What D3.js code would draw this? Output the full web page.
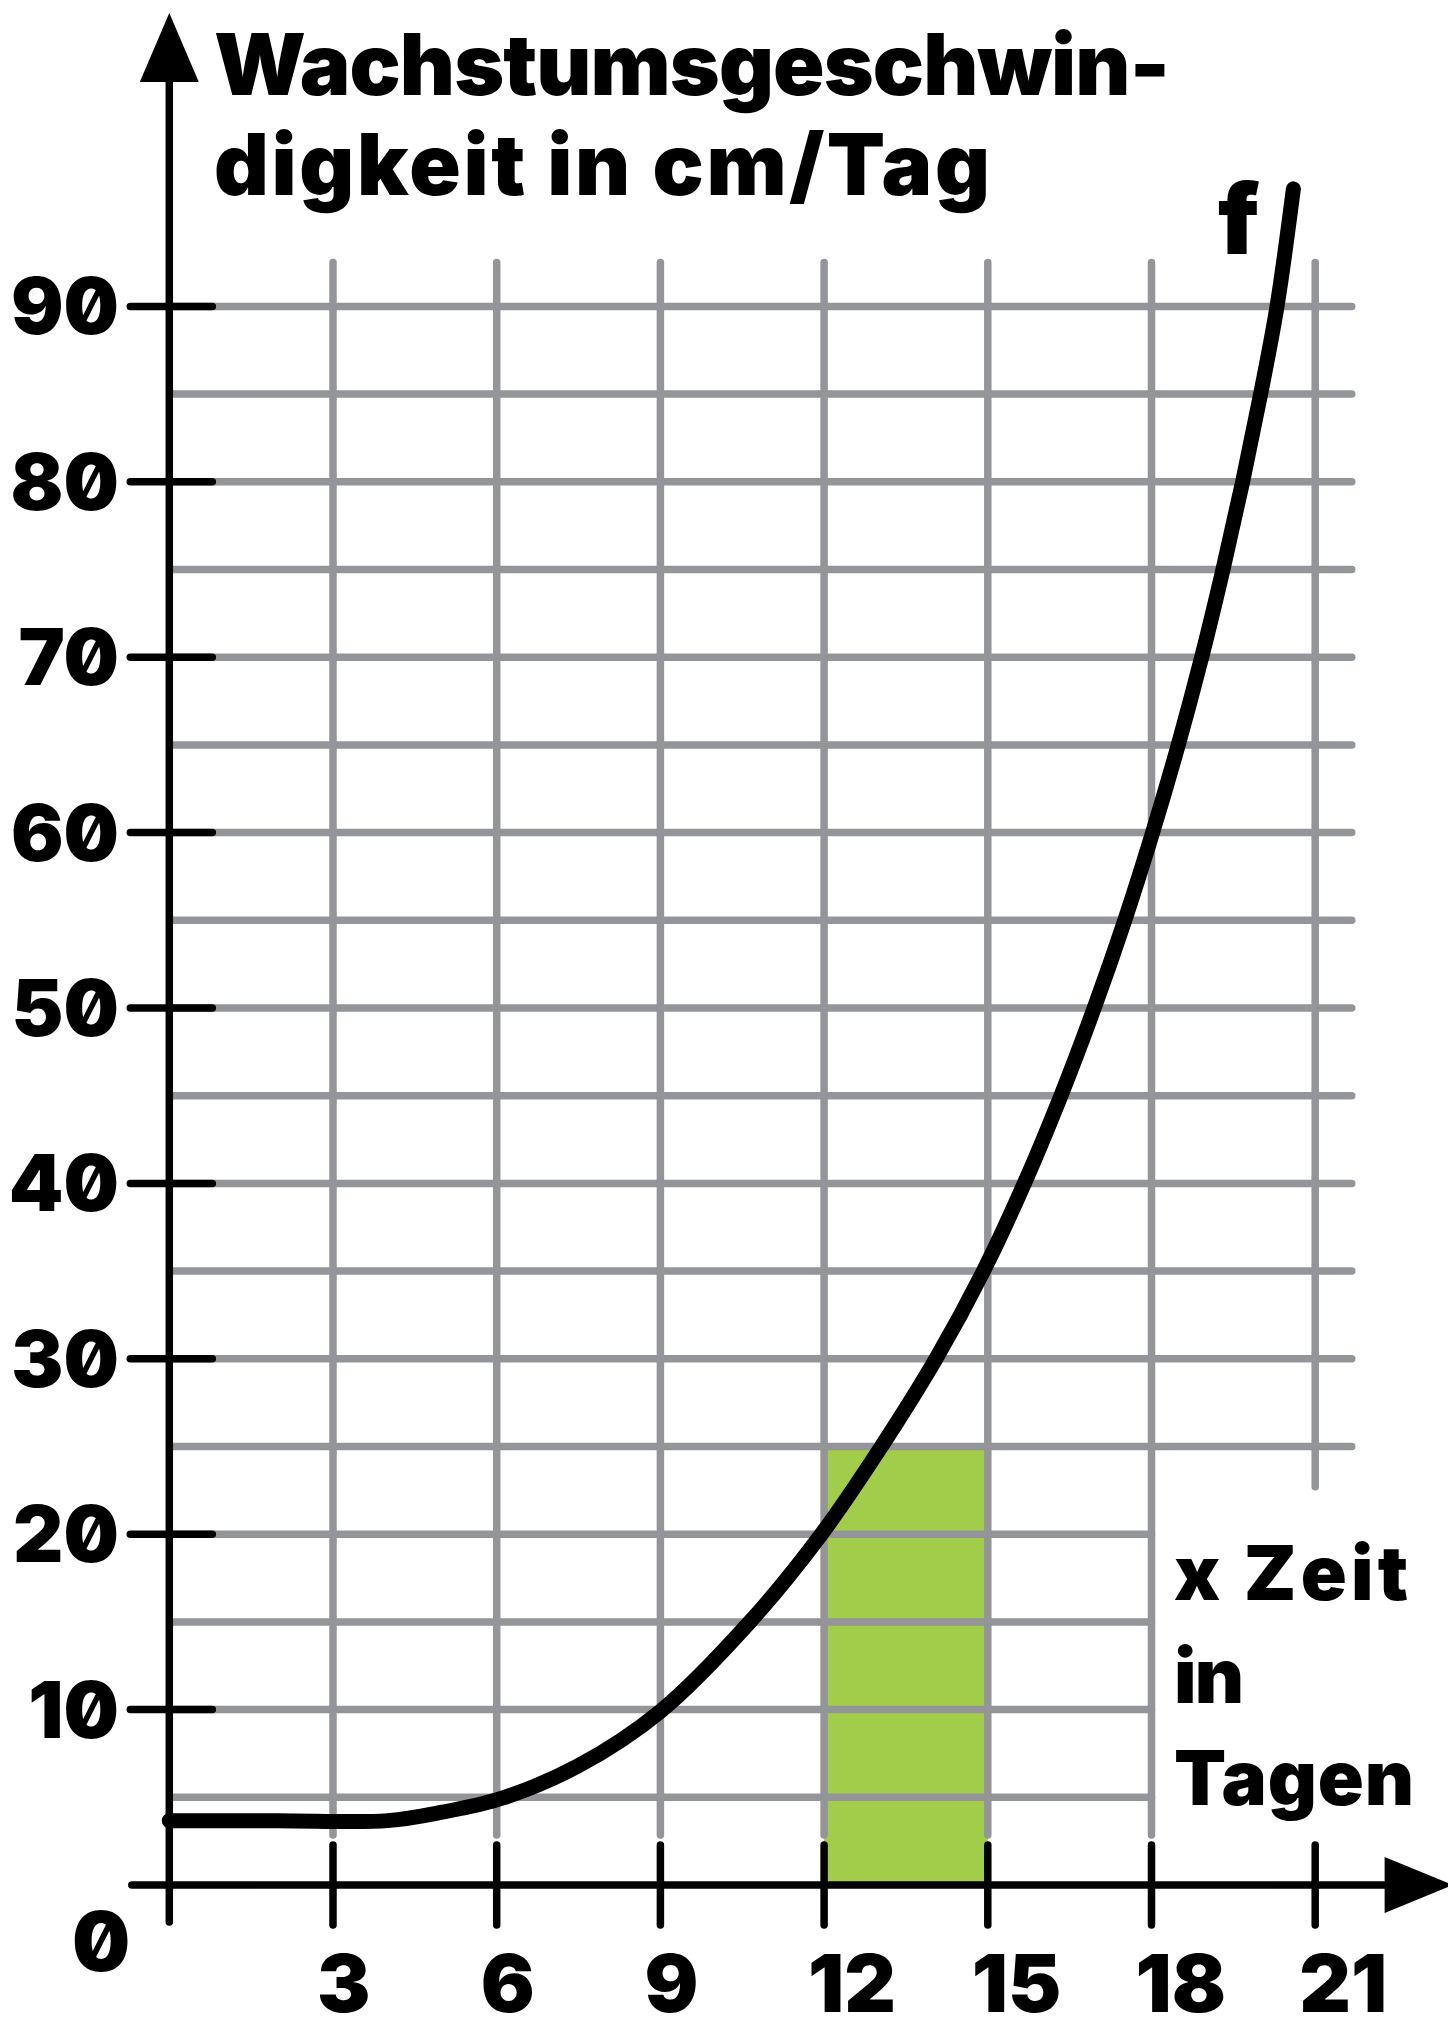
<!DOCTYPE html>
<html>
<head>
<meta charset="utf-8">
<script src="https://cdn.jsdelivr.net/npm/d3@7/dist/d3.min.js"></script>
<style>
  html, body { margin: 0; padding: 0; background: #fff; }
  svg text { font-family: Inter, "Open Sans", sans-serif; font-weight: 900; fill: #000; font-feature-settings: "zero" 1; }
</style>
</head>
<body>
<svg id="chart" width="1448" height="2018"></svg>
<script>
// ======================================================================
// DATA
// ======================================================================

const xTicks = [3, 6, 9, 12, 15, 18, 21];
const yTicks = [10, 20, 30, 40, 50, 60, 70, 80, 90];
const yGrid = [5, 10, 15, 20, 25, 30, 35, 40, 45, 50, 55, 60, 65, 70, 75, 80, 85, 90];

// curve f: growth speed in cm per day
const fDays = [0, 2, 4, 5, 6.1, 7.5, 9, 10.64, 11.95, 13.05, 14.05, 14.92, 15.67, 16.34, 16.95, 17.51, 18.02, 18.49, 18.92, 19.31, 19.67, 20.0, 20.3, 20.6];
const fSpeed = [3.67, 3.67, 3.67, 4.15, 4.95, 6.8, 9.9, 15, 20, 25, 30, 35, 40, 45, 50, 55, 60, 65, 70, 75, 80, 85, 90, 96.7];

// highlighted column
const barDays = [12, 15];
const barSpeed = 25;

const titleLines = ["Wachstumsgeschwin-", "digkeit in cm/Tag"];
const xTitleLines = ["x Zeit", "in", "Tagen"];
const curveName = "f";

// ======================================================================
// LAYOUT
// ======================================================================

const gray = "#939598";
const green = "#a1cd4a";

// line widths measured on the picture
const titleWidths = [956, 776];
const xTitleWidths = [234, 70, 240];

const x = d3.scaleLinear().domain([0, 21]).range([169.3, 1315.2]);
const y = d3.scaleLinear().domain([0, 90]).range([1885, 306.4]);

const svg = d3.select("#chart");

// green column
svg
  .append("rect")
  .attr("x", x(barDays[0]))
  .attr("y", y(barSpeed))
  .attr("width", x(barDays[1]) - x(barDays[0]))
  .attr("height", y(0) - y(barSpeed))
  .attr("fill", green);

// grid
const grid = svg
  .append("g")
  .attr("stroke", gray)
  .attr("stroke-width", 7.5)
  .attr("stroke-linecap", "round");

grid
  .selectAll("line.h")
  .data(yGrid)
  .join("line")
  .attr("class", "h")
  .attr("x1", x(0) + 3)
  .attr("x2", (d) => (d < 25 ? x(18) : x(21.67)))
  .attr("y1", (d) => y(d))
  .attr("y2", (d) => y(d));

grid
  .selectAll("line.v")
  .data(xTicks)
  .join("line")
  .attr("class", "v")
  .attr("x1", (d) => x(d))
  .attr("x2", (d) => x(d))
  .attr("y1", y(92.5))
  .attr("y2", (d) => (d === 21 ? y(22.7) : y(2.85)));

// axes
const axes = svg
  .append("g")
  .attr("stroke", "#000")
  .attr("stroke-width", 7.5)
  .attr("stroke-linecap", "round");

axes
  .append("line")
  .attr("x1", x(0))
  .attr("x2", x(0))
  .attr("y1", y(0) + 37)
  .attr("y2", 60);

axes
  .append("line")
  .attr("x1", x(0) - 37.5)
  .attr("x2", 1400)
  .attr("y1", y(0))
  .attr("y2", y(0));

axes
  .selectAll("line.xt")
  .data(xTicks)
  .join("line")
  .attr("class", "xt")
  .attr("x1", (d) => x(d))
  .attr("x2", (d) => x(d))
  .attr("y1", y(0) - 40)
  .attr("y2", y(0) + 40);

axes
  .selectAll("line.yt")
  .data(yTicks)
  .join("line")
  .attr("class", "yt")
  .attr("x1", x(0) - 39)
  .attr("x2", x(0) + 43)
  .attr("y1", (d) => y(d))
  .attr("y2", (d) => y(d));

// arrow heads
svg
  .append("path")
  .attr("fill", "#000")
  .attr("d", `M${x(0)},13 L${x(0) + 29.5},82 L${x(0) - 29.5},82 Z`);

svg
  .append("path")
  .attr("fill", "#000")
  .attr("d", `M1453,${y(0)} L1384.6,${y(0) - 28} L1384.6,${y(0) + 28} Z`);

// curve f
const line = d3
  .line()
  .x((d, i) => x(fDays[i]))
  .y((d, i) => y(fSpeed[i]))
  .curve(d3.curveCatmullRom.alpha(0.5));

svg
  .append("path")
  .datum(fDays)
  .attr("fill", "none")
  .attr("stroke", "#000")
  .attr("stroke-width", 15)
  .attr("stroke-linecap", "round")
  .attr("stroke-linejoin", "round")
  .attr("d", line);

// tick labels
svg
  .append("g")
  .attr("font-size", 78)
  .selectAll("text")
  .data(yTicks)
  .join("text")
  .attr("x", 119)
  .attr("y", (d) => y(d) + 28)
  .attr("text-anchor", "end")
  .text((d) => d);

svg
  .append("g")
  .attr("font-size", 80)
  .selectAll("text")
  .data(xTicks)
  .join("text")
  .attr("x", (d) => x(d) - 16)
  .attr("y", 2012)
  .text((d) => d);

svg
  .append("text")
  .attr("font-size", 82)
  .attr("x", 72)
  .attr("y", 1971)
  .text("0");

// titles (widths stretched by spacing to the picture)
svg
  .append("g")
  .attr("font-size", 85)
  .selectAll("text")
  .data(titleLines)
  .join("text")
  .attr("x", 214)
  .attr("y", (d, i) => 95 + i * 100)
  .attr("textLength", (d, i) => titleWidths[i])
  .attr("lengthAdjust", "spacing")
  .text((d) => d);

svg
  .append("g")
  .attr("font-size", 76)
  .selectAll("text")
  .data(xTitleLines)
  .join("text")
  .attr("x", 1174)
  .attr("y", (d, i) => 1600 + i * 102.5)
  .attr("textLength", (d, i) => xTitleWidths[i])
  .attr("lengthAdjust", "spacing")
  .text((d) => d);

svg
  .append("text")
  .attr("font-size", 98)
  .attr("x", 1218)
  .attr("y", 254)
  .text(curveName);
</script>
</body>
</html>
